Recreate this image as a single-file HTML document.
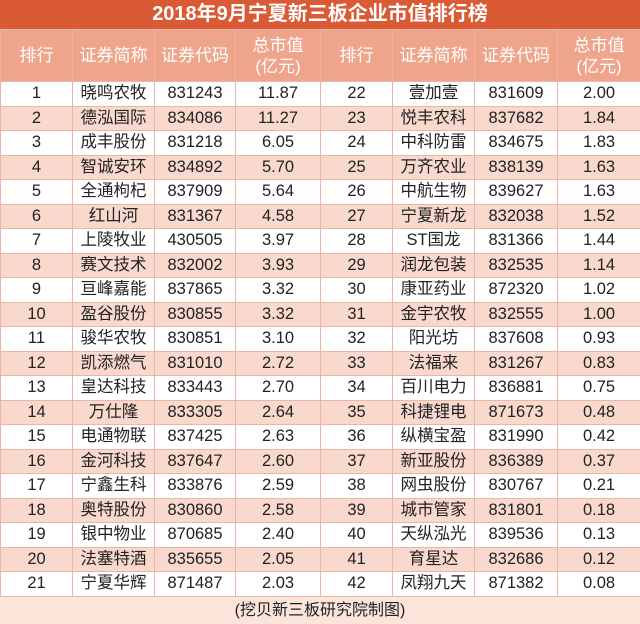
<!DOCTYPE html><html><head><meta charset="utf-8"><style>
body{margin:0;width:640px;height:624px;overflow:hidden;background:#fff;font-family:"Liberation Sans","Noto Sans CJK SC",sans-serif}
.t{position:absolute;left:0;top:0;width:640px;height:29px;background:#D95A35;color:#fff;font-weight:bold;font-size:20px;text-align:center;line-height:29px}
table{position:absolute;left:0;top:29px;border-collapse:collapse;width:640px;table-layout:fixed}
td{border:1px solid #EBB7A4;text-align:center;font-size:16.5px;color:#222;height:23.5px;padding:0;line-height:23px;white-space:nowrap}
tr.h td{background:#EFA48C;color:#fff;font-size:17px;height:51px;line-height:21px}
tr:nth-child(odd):not(.h) td{background:#F9D9CD}
.f{position:absolute;left:0;top:597px;width:640px;height:27px;background:#FBE4DA;text-align:center;font-size:16px;line-height:27px;color:#222}
</style></head><body>
<div class="t">2018年9月宁夏新三板企业市值排行榜</div>
<table>
<colgroup><col style="width:72px"><col style="width:82px"><col style="width:81px"><col style="width:85px"><col style="width:72px"><col style="width:82px"><col style="width:83px"><col style="width:83px"></colgroup>
<tr class="h"><td>排行</td><td>证券简称</td><td>证券代码</td><td>总市值<br>(亿元)</td><td>排行</td><td>证券简称</td><td>证券代码</td><td>总市值<br>(亿元)</td></tr>
<tr><td>1</td><td>晓鸣农牧</td><td>831243</td><td>11.87</td><td>22</td><td>壹加壹</td><td>831609</td><td>2.00</td></tr>
<tr><td>2</td><td>德泓国际</td><td>834086</td><td>11.27</td><td>23</td><td>悦丰农科</td><td>837682</td><td>1.84</td></tr>
<tr><td>3</td><td>成丰股份</td><td>831218</td><td>6.05</td><td>24</td><td>中科防雷</td><td>834675</td><td>1.83</td></tr>
<tr><td>4</td><td>智诚安环</td><td>834892</td><td>5.70</td><td>25</td><td>万齐农业</td><td>838139</td><td>1.63</td></tr>
<tr><td>5</td><td>全通枸杞</td><td>837909</td><td>5.64</td><td>26</td><td>中航生物</td><td>839627</td><td>1.63</td></tr>
<tr><td>6</td><td>红山河</td><td>831367</td><td>4.58</td><td>27</td><td>宁夏新龙</td><td>832038</td><td>1.52</td></tr>
<tr><td>7</td><td>上陵牧业</td><td>430505</td><td>3.97</td><td>28</td><td>ST国龙</td><td>831366</td><td>1.44</td></tr>
<tr><td>8</td><td>赛文技术</td><td>832002</td><td>3.93</td><td>29</td><td>润龙包装</td><td>832535</td><td>1.14</td></tr>
<tr><td>9</td><td>亘峰嘉能</td><td>837865</td><td>3.32</td><td>30</td><td>康亚药业</td><td>872320</td><td>1.02</td></tr>
<tr><td>10</td><td>盈谷股份</td><td>830855</td><td>3.32</td><td>31</td><td>金宇农牧</td><td>832555</td><td>1.00</td></tr>
<tr><td>11</td><td>骏华农牧</td><td>830851</td><td>3.10</td><td>32</td><td>阳光坊</td><td>837608</td><td>0.93</td></tr>
<tr><td>12</td><td>凯添燃气</td><td>831010</td><td>2.72</td><td>33</td><td>法福来</td><td>831267</td><td>0.83</td></tr>
<tr><td>13</td><td>皇达科技</td><td>833443</td><td>2.70</td><td>34</td><td>百川电力</td><td>836881</td><td>0.75</td></tr>
<tr><td>14</td><td>万仕隆</td><td>833305</td><td>2.64</td><td>35</td><td>科捷锂电</td><td>871673</td><td>0.48</td></tr>
<tr><td>15</td><td>电通物联</td><td>837425</td><td>2.63</td><td>36</td><td>纵横宝盈</td><td>831990</td><td>0.42</td></tr>
<tr><td>16</td><td>金河科技</td><td>837647</td><td>2.60</td><td>37</td><td>新亚股份</td><td>836389</td><td>0.37</td></tr>
<tr><td>17</td><td>宁鑫生科</td><td>833876</td><td>2.59</td><td>38</td><td>网虫股份</td><td>830767</td><td>0.21</td></tr>
<tr><td>18</td><td>奥特股份</td><td>830860</td><td>2.58</td><td>39</td><td>城市管家</td><td>831801</td><td>0.18</td></tr>
<tr><td>19</td><td>银中物业</td><td>870685</td><td>2.40</td><td>40</td><td>天纵泓光</td><td>839536</td><td>0.13</td></tr>
<tr><td>20</td><td>法塞特酒</td><td>835655</td><td>2.05</td><td>41</td><td>育星达</td><td>832686</td><td>0.12</td></tr>
<tr><td>21</td><td>宁夏华辉</td><td>871487</td><td>2.03</td><td>42</td><td>凤翔九天</td><td>871382</td><td>0.08</td></tr>
</table>
<div class="f">(挖贝新三板研究院制图)</div>
</body></html>
